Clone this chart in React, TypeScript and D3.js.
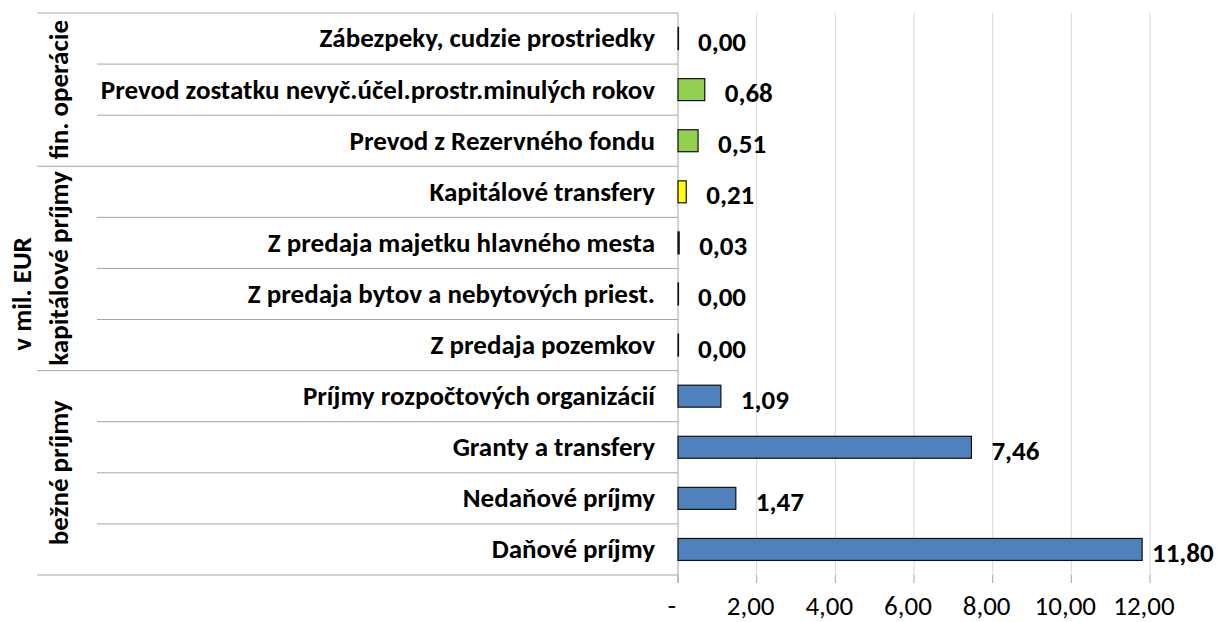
import * as d3 from "d3";

const categories = [
  "Zábezpeky, cudzie prostriedky",
  "Prevod zostatku nevyč.účel.prostr.minulých rokov",
  "Prevod z Rezervného fondu",
  "Kapitálové transfery",
  "Z predaja majetku hlavného mesta",
  "Z predaja bytov a nebytových priest.",
  "Z predaja pozemkov",
  "Príjmy rozpočtových organizácií",
  "Granty a transfery",
  "Nedaňové príjmy",
  "Daňové príjmy",
];
const values = [0.0, 0.68, 0.51, 0.21, 0.03, 0.0, 0.0, 1.09, 7.46, 1.47, 11.8];
const barColors = ["#92D050", "#92D050", "#92D050", "#FFFF00", "#4F81BD", "#4F81BD", "#4F81BD", "#4F81BD", "#4F81BD", "#4F81BD", "#4F81BD"];
const groups = [
  { name: "fin. operácie", from: 0, to: 3 },
  { name: "kapitálové príjmy", from: 3, to: 7 },
  { name: "bežné príjmy", from: 7, to: 11 },
];
const ticks = [0, 2, 4, 6, 8, 10, 12];
const axisTitle = "v mil. EUR";

const W = 1217, H = 622;
const left = 678, right = 1150, top = 13, bottom = 575;
const groupX = 37, catX = 97;
const font = "Calibri, Carlito, 'Open Sans', sans-serif";
const fs = 27;

const fmt = (v: number) => v.toFixed(2).replace(".", ",");

export default function App() {
  const x = d3.scaleLinear().domain([0, 12]).range([left, right]);
  const y = d3.scaleBand<number>().domain(d3.range(categories.length)).range([top, bottom]).paddingInner(0).paddingOuter(0);
  const bh = y.bandwidth() * 0.43;
  const rowY = (i: number) => top + i * y.step();

  return (
    <svg width={W} height={H} style={{ position: "absolute", left: 0, top: 0, background: "#fff" }} fontFamily={font}>
      {/* gridlines + ticks */}
      {ticks.map(t => (
        <g key={t}>
          <line x1={x(t)} x2={x(t)} y1={top} y2={t === 0 ? bottom + 8 : bottom} stroke={t === 0 ? "#a6a6a6" : "#d9d9d9"} />
          <line x1={x(t)} x2={x(t)} y1={bottom} y2={bottom + 8} stroke="#a6a6a6" />
          <text x={x(t) - 6} y={bottom + 40} textAnchor="middle" fontSize={fs} fill="#000">
            {t === 0 ? "-" : fmt(t)}
          </text>
        </g>
      ))}

      {/* category separators */}
      {d3.range(1, categories.length).map(i => {
        const isGroup = groups.some(g => g.from === i);
        return <line key={i} x1={isGroup ? groupX : catX} x2={left} y1={rowY(i)} y2={rowY(i)} stroke="#a6a6a6" />;
      })}
      <line x1={groupX} x2={left} y1={top} y2={top} stroke="#a6a6a6" />
      <line x1={groupX} x2={left} y1={bottom} y2={bottom} stroke="#a6a6a6" />

      {/* category labels */}
      {categories.map((c, i) => (
        <text key={c} x={655} y={y(i)! + y.bandwidth() / 2} dy="0.33em" textAnchor="end" fontSize={fs} fontWeight="bold" fill="#000">
          {c}
        </text>
      ))}

      {/* group labels */}
      {groups.map(g => {
        const cy = (rowY(g.from) + rowY(g.to)) / 2;
        return (
          <text key={g.name} transform={`translate(59,${cy}) rotate(-90)`} dy="0.35em" textAnchor="middle" fontSize={fs} fontWeight="bold" fill="#000">
            {g.name}
          </text>
        );
      })}
      <text transform={`translate(22,${(top + bottom) / 2}) rotate(-90)`} dy="0.35em" textAnchor="middle" fontSize={fs} fontWeight="bold" fill="#000">
        {axisTitle}
      </text>

      {/* bars */}
      {values.map((v, i) => {
        const cy = y(i)! + y.bandwidth() / 2;
        const w = Math.max(x(v) - x(0), 0.5);
        return (
          <g key={i}>
            <rect x={x(0)} y={cy - bh / 2} width={w} height={bh} fill={barColors[i]} stroke="#111" strokeWidth={1.2} />
            <text x={Math.min(x(v) + 20, right + 2)} y={cy + 3} dy="0.35em" fontSize={fs} fontWeight="bold" fill="#000">
              {fmt(v)}
            </text>
          </g>
        );
      })}
    </svg>
  );
}
